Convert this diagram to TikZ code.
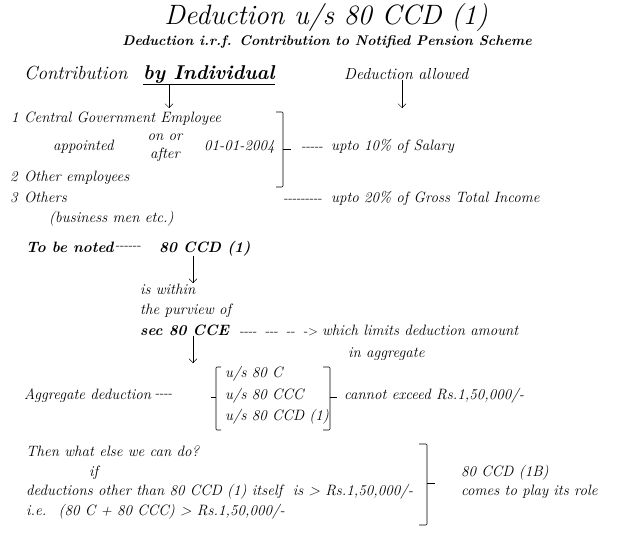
\documentclass[tikz,border=0pt]{standalone}
\usetikzlibrary{arrows.meta}
\begin{document}
\begin{tikzpicture}[x=1pt,y=-1pt,>={Straight Barb[length=4pt,width=8pt]},
txt/.style={anchor=mid west,inner sep=0pt,font=\fontsize{15}{18}\selectfont\itshape},
bld/.style={txt,font=\fontsize{15}{18}\selectfont\bfseries\itshape},
dsh/.style={txt,font=\fontsize{13}{15}\selectfont},
brk/.style={line width=0.6pt,rounded corners=1pt}]
\useasboundingbox (0,0) rectangle (618,535);
\node (title) at (326,18) {\fontsize{28}{32}\selectfont\itshape Deduction u/s 80 CCD (1)};
\node (sub) at (327,42) {\fontsize{14}{16}\selectfont\bfseries\itshape Deduction i.r.f. Contribution to Notified Pension Scheme};
\node[txt,font=\fontsize{19}{22}\selectfont\itshape] (contr) at (24,77) {Contribution};
\node[txt,font=\fontsize{20}{24}\selectfont\bfseries\itshape] (ind) at (143,77) {\underline{by Individual}};
\node[txt,font=\fontsize{16}{19}\selectfont\itshape] (allow) at (344,77) {Deduction allowed};
\coordinate (a1) at (169,108);
\coordinate (a2) at (402,108);
\draw[->] (ind.south -| a1)--(a1);
\draw[->] (allow.south -| a2)--(a2);
\node[txt] (n1) at (11,120) {1};
\node[txt] (cge) at (24,120) {Central Government Employee};
\node[txt] (appt) at (53,148) {appointed};
\node[txt,align=center,anchor=center] (onor) at (165,148) {on or\\after};
\node[txt] (date) at (204,148) {01-01-2004};
\draw[brk] (276,112)--(283,112)--(283,187)--(276,187);
\draw (283,149)--(291,149);
\node[dsh] (d1) at (302,148) {-{}-{}-{}-{}-};
\node[txt] (sal) at (331,148) {upto 10\% of Salary};
\node[txt] (n2) at (10,179) {2};
\node[txt] (oemp) at (24,179) {Other employees};
\node[txt] (n3) at (10,200) {3};
\node[txt] (oth) at (24,200) {Others};
\node[dsh] (d2) at (284,200) {-{}-{}-{}-{}-{}-{}-{}-{}-};
\node[txt] (gti) at (331,200) {upto 20\% of Gross Total Income};
\node[txt] (bus) at (49,220) {(business men etc.)};
\node[bld] (note) at (26,250) {To be noted};
\node[dsh] (d3) at ([xshift=2pt]note.east) {-{}-{}-{}-{}-{}-};
\node[bld] (ccd) at (159,250) {80 CCD (1)};
\coordinate (a3) at (193,283);
\draw[->] (ccd.south -| a3)--(a3);
\node[txt] (within) at (140,292) {is within};
\node[txt] (purv) at (140,312) {the purview of};
\node[bld] (cce) at (140,333) {sec 80 CCE};
\node[dsh] (d4) at (240,333) {-{}-{}-{}-\ \ -{}-{}-\ \ -{}-\ \ -{}>};
\node[txt] (limit) at (322,333) {which limits deduction amount};
\node[txt] (aggr) at (348,355) {in aggregate};
\coordinate (a4) at (193,363);
\draw[->] (cce.south -| a4)--(a4);
\node[txt] (agd) at (24,397) {Aggregate deduction};
\node[dsh] (d5) at ([xshift=4pt]agd.east) {-{}-{}-{}-};
\draw[brk] (221,367)--(216,367)--(216,430)--(221,430);
\draw (216,397)--(211,397);
\node[txt] (c80) at (225,375) {u/s 80 C};
\node[txt] (ccc) at (225,397) {u/s 80 CCC};
\node[txt] (ccd1) at (225,418) {u/s 80 CCD (1)};
\draw[brk] (323,367)--(330,367)--(330,430)--(323,430);
\draw (330,397)--(337,397);
\node[txt] (exc) at (344,397) {cannot exceed Rs.1,50,000/-};
\node[txt] (then) at (26,454) {Then what else we can do?};
\node[txt] (if) at (89,474) {if};
\node[txt] (other) at (26,493) {deductions other than 80 CCD (1) itself~ is > Rs.1,50,000/-};
\node[txt] (ie) at (26,513) {i.e.~ (80 C + 80 CCC) > Rs.1,50,000/-};
\draw[brk] (419,444)--(427,444)--(427,525)--(419,525);
\draw (427,483)--(435,483);
\node[txt] (ccdb) at (461,474) {80 CCD (1B)};
\node[txt] (role) at (461,493) {comes to play its role};
\end{tikzpicture}
\end{document}
